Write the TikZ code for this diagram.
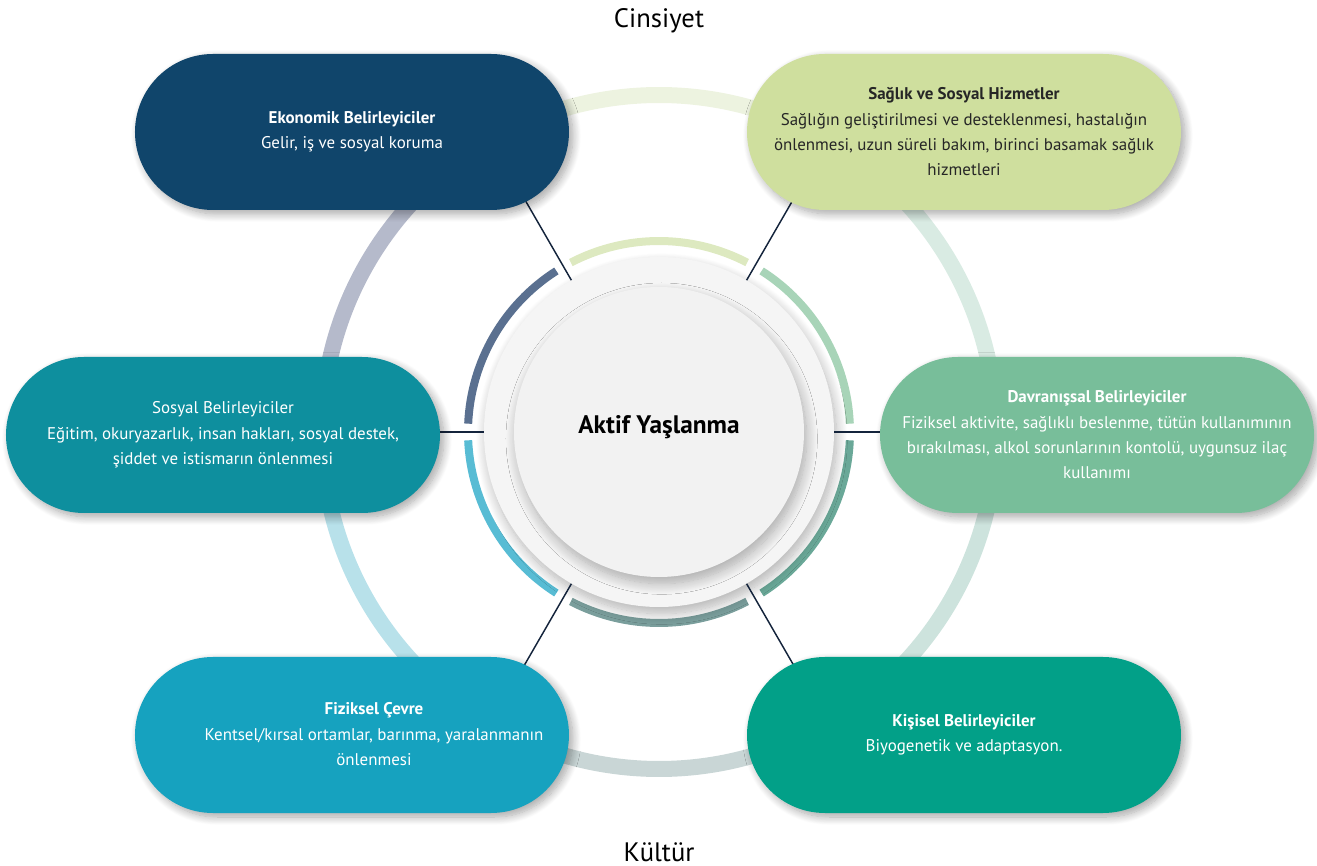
\documentclass[tikz,border=0pt]{standalone}
\usepackage{fontspec}
\setmainfont{PT Sans}
\usetikzlibrary{shapes.misc,shadows.blur}
\definecolor{ekoBlue}{HTML}{10456B}
\definecolor{sagGreen}{HTML}{CFDF9E}
\definecolor{sosTeal}{HTML}{0E8F9E}
\definecolor{davGreen}{HTML}{78BE9A}
\definecolor{fizCyan}{HTML}{16A2BF}
\definecolor{kisGreen}{HTML}{02A088}
\definecolor{linkNavy}{HTML}{14243C}
\definecolor{oA}{HTML}{D9EBE3}
\definecolor{oB}{HTML}{EDF3E0}
\definecolor{oC}{HTML}{B5BACB}
\definecolor{oD}{HTML}{B8E1EA}
\definecolor{oE}{HTML}{C9D6D6}
\definecolor{oF}{HTML}{CDE3DD}
\definecolor{iA}{HTML}{A8D4B8}
\definecolor{iB}{HTML}{DDE9C0}
\definecolor{iC}{HTML}{5A7090}
\definecolor{iD}{HTML}{58BCD4}
\definecolor{iE}{HTML}{7A9E9C}
\definecolor{iF}{HTML}{6AA898}
\begin{document}
\begin{tikzpicture}[x=0.75pt, y=0.75pt, line cap=butt,
	pill/.style={rounded rectangle, minimum width=325.5pt, minimum height=117pt, inner sep=0pt,
		align=center, text=white, font=\fontsize{12.7}{19}\selectfont,
		blur shadow={shadow xshift=3pt, shadow yshift=-3pt, shadow blur radius=6pt, shadow blur steps=12, shadow opacity=35}},
	disk/.style={circle, inner sep=0pt,
		blur shadow={shadow xshift=2pt, shadow yshift=-5pt, shadow blur radius=8pt, shadow blur steps=16, shadow opacity=30}},
	link/.style={draw=linkNavy, line width=1.1pt}]
	\useasboundingbox (-659,-434) rectangle (658,432);
	% outer ring
	\foreach \a/\col in {0/oA, 60/oB, 120/oC, 180/oD, 240/oE, 300/oF}
	\draw[\col, line width=12pt] (\a:337) arc[start angle=\a, end angle=\a+60, radius=337];
	% inner ring
	\foreach \a/\col in {0/iA, 60/iB, 120/iC, 180/iD, 240/iE, 300/iF}
	\draw[\col, line width=6pt] (\a+2.5:191) arc[start angle=\a+2.5, end angle=\a+57.5, radius=191];
	\node[disk, fill=black!4, minimum size=262.5pt] (mid) at (0,0) {};
	% radial links
	\foreach \a in {0,60,...,300}
	\draw[link] (mid.\a) -- (\a:300);
	\node[disk, fill=black!5, minimum size=217.5pt] (core) at (0,0) {};
	\node[font=\fontsize{19}{22}\selectfont\bfseries] (title) at (0,5) {Aktif Yaşlanma};
	% pills
	\node[pill, fill=ekoBlue] (eko) at (-307,300)
	{\textbf{Ekonomik Belirleyiciler}\\ Gelir, iş ve sosyal koruma};
	\node[pill, fill=sagGreen, text=black!85] (sag) at (305,300)
	{\textbf{Sağlık ve Sosyal Hizmetler}\\ Sağlığın geliştirilmesi ve desteklenmesi, hastalığın\\
		önlenmesi, uzun süreli bakım, birinci basamak sağlık\\ hizmetleri};
	\node[pill, fill=sosTeal] (sos) at (-436,-3)
	{Sosyal Belirleyiciler\\ Eğitim, okuryazarlık, insan hakları, sosyal destek,\\
		şiddet ve istismarın önlenmesi};
	\node[pill, fill=davGreen] (dav) at (438,-3)
	{\textbf{Davranışsal Belirleyiciler}\\ Fiziksel aktivite, sağlıklı beslenme, tütün kullanımının\\
		bırakılması, alkol sorunlarının kontolü, uygunsuz ilaç\\ kullanımı};
	\node[pill, fill=fizCyan] (fiz) at (-307,-303)
	{\begin{tabular}{@{\hspace{33pt}}c@{}}\textbf{Fiziksel Çevre}\\ Kentsel/kırsal ortamlar, barınma, yaralanmanın\\ önlenmesi\end{tabular}};
	\node[pill, fill=kisGreen] (kis) at (305,-303)
	{\textbf{Kişisel Belirleyiciler}\\ Biyogenetik ve adaptasyon.};
	% outer labels
	\node[font=\fontsize{20}{24}\selectfont] (gen) at (0,411) {Cinsiyet};
	\node[font=\fontsize{20}{24}\selectfont] (cul) at (0,-420) {Kültür};
\end{tikzpicture}
\end{document}
